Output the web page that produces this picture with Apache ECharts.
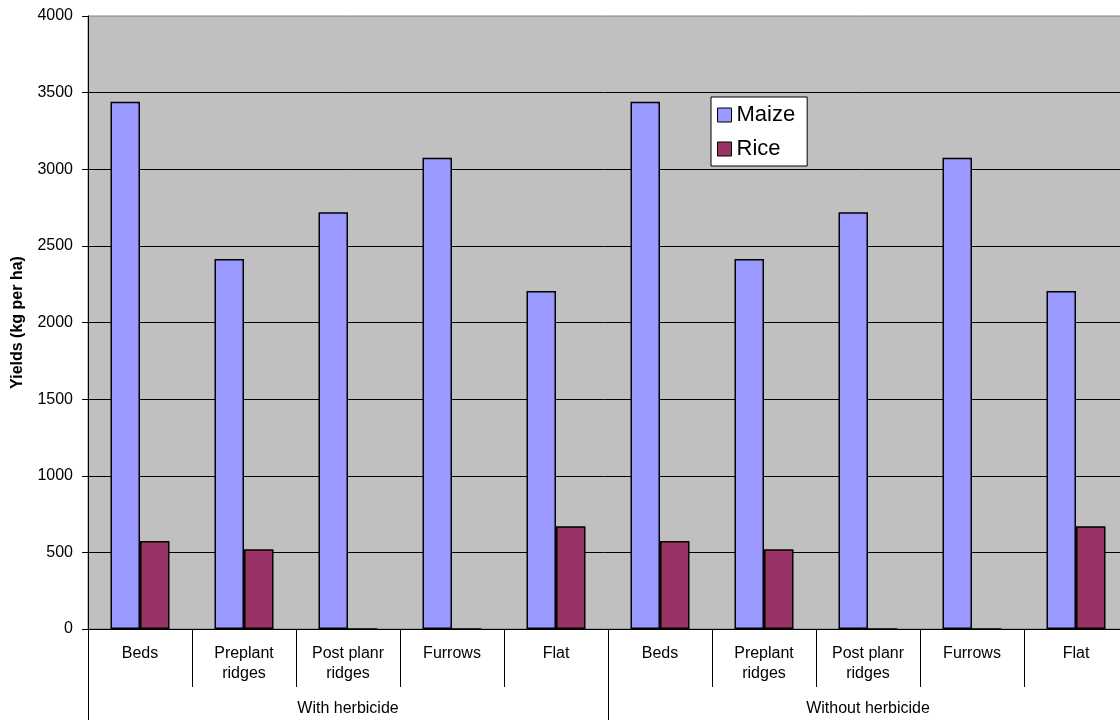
<!DOCTYPE html>
<html>
<head>
<meta charset="utf-8">
<script src="https://cdn.jsdelivr.net/npm/echarts@6/dist/echarts.min.js"></script>
<style>
  html, body { margin: 0; padding: 0; background: #fff; }
  #chart { width: 1120px; height: 720px; }
</style>
</head>
<body>
<div id="chart"></div>
<script>
// Field layouts, repeated for each herbicide treatment
const categories = [
  'Beds', 'Preplant\nridges', 'Post planr\nridges', 'Furrows', 'Flat',
  'Beds', 'Preplant\nridges', 'Post planr\nridges', 'Furrows', 'Flat'
];
const groups = ['With herbicide', 'Without herbicide'];

// Yields in kg per ha
const maize = [3440, 2415, 2720, 3075, 2205, 3440, 2415, 2720, 3075, 2205];
const rice  = [575, 520, 0, 0, 670, 575, 520, 0, 0, 670];

const yTicks = { min: 0, max: 4000, interval: 500 };

const FONT = '"Liberation Sans", Arial, sans-serif';

const chart = echarts.init(document.getElementById('chart'));
chart.setOption({
  animation: false,
  backgroundColor: '#ffffff',
  textStyle: { fontFamily: FONT, color: '#000' },
  grid: {
    left: 88, right: -8, top: 16, bottom: 91,
    outerBoundsMode: 'none',
    containLabel: false,
    show: true,
    backgroundColor: '#c0c0c0',
    borderColor: '#808080',
    borderWidth: 1
  },
  legend: {
    orient: 'vertical',
    left: 711, top: 97,
    backgroundColor: '#ffffff',
    borderColor: '#000',
    borderWidth: 1,
    borderRadius: 0,
    padding: [7, 12, 6, 6],
    itemGap: 12,
    itemWidth: 14,
    itemHeight: 14,
    icon: 'rect',
    itemStyle: { borderColor: '#000', borderWidth: 1 },
    textStyle: { fontSize: 22, fontFamily: FONT, color: '#000' },
    data: ['Maize', 'Rice']
  },
  xAxis: [
    {
      type: 'category',
      data: categories,
      position: 'bottom',
      axisLine: { show: true, lineStyle: { color: '#000', width: 1 } },
      axisTick: { show: true, interval: 0, length: 58, lineStyle: { color: '#000' } },
      axisLabel: {
        interval: 0, margin: 15,
        fontSize: 16, lineHeight: 20,
        verticalAlign: 'top',
        color: '#000', fontFamily: FONT
      },
      splitLine: { show: false }
    },
    {
      type: 'category',
      data: groups,
      position: 'bottom',
      axisLine: { show: false },
      axisTick: { show: true, interval: 0, length: 91, lineStyle: { color: '#000' } },
      axisLabel: {
        interval: 0, margin: 70,
        fontSize: 16, lineHeight: 20,
        verticalAlign: 'top',
        color: '#000', fontFamily: FONT
      },
      splitLine: { show: false }
    }
  ],
  yAxis: {
    type: 'value',
    min: yTicks.min, max: yTicks.max, interval: yTicks.interval,
    name: 'Yields (kg per ha)',
    nameLocation: 'middle',
    nameRotate: 90,
    nameGap: 62,
    nameTextStyle: { fontSize: 16, fontWeight: 'bold', color: '#000', fontFamily: FONT },
    axisLine: { show: true, lineStyle: { color: '#000', width: 1 } },
    axisTick: { show: true, length: 6, lineStyle: { color: '#000' } },
    axisLabel: {
      margin: 15, fontSize: 16, color: '#000', fontFamily: FONT,
      formatter: (v) => String(v)
    },
    splitLine: { show: true, showMinLine: false, showMaxLine: false, lineStyle: { color: '#000', width: 1 } }
  },
  series: [
    {
      name: 'Maize',
      type: 'bar',
      xAxisIndex: 0,
      data: maize,
      barWidth: 29.5,
      barGap: '0%',
      itemStyle: { color: '#9999ff', borderColor: '#000', borderWidth: 1.5 }
    },
    {
      name: 'Rice',
      type: 'bar',
      xAxisIndex: 0,
      data: rice,
      barWidth: 29.5,
      barGap: '0%',
      itemStyle: { color: '#993366', borderColor: '#000', borderWidth: 1.5 }
    }
  ]
});
</script>
</body>
</html>
